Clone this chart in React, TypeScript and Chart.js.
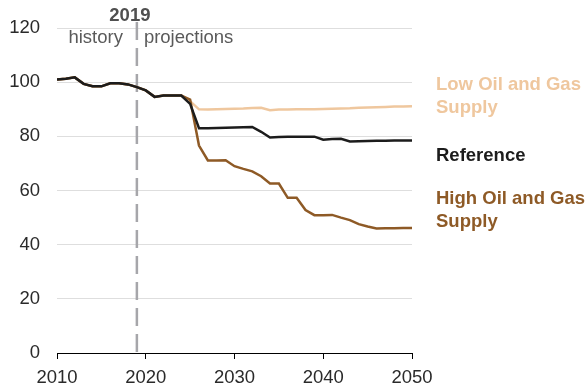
import React, { useEffect, useRef } from "react";
import { Chart, registerables } from "chart.js";

Chart.register(...registerables);

const years: number[] = [];
for (let y = 2010; y <= 2050; y++) years.push(y);

const referenceCase = [
  101.0, 101.3, 101.8, 99.4, 98.5, 98.5, 99.6, 99.6, 99.2, 98.2,
  97.0, 94.6, 95.1, 95.1, 95.1, 92.0, 83.0, 83.0, 83.1, 83.2,
  83.3, 83.4, 83.5, 81.7, 79.6, 79.8, 79.9, 79.9, 79.9, 79.9,
  78.8, 79.0, 79.1, 78.1, 78.2, 78.3, 78.4, 78.4, 78.5, 78.5, 78.5,
];

const lowSupply = [
  101.0, 101.3, 101.8, 99.4, 98.5, 98.5, 99.6, 99.6, 99.2, 98.2,
  97.0, 94.6, 95.1, 95.1, 95.1, 93.0, 90.0, 89.9, 90.0, 90.1,
  90.2, 90.3, 90.5, 90.6, 89.7, 89.9, 89.9, 90.0, 90.0, 90.0,
  90.1, 90.2, 90.3, 90.4, 90.6, 90.7, 90.8, 90.9, 91.0, 91.0, 91.1,
];

const highSupply = [
  101.0, 101.3, 101.8, 99.4, 98.5, 98.5, 99.6, 99.6, 99.2, 98.2,
  97.0, 94.6, 95.1, 95.1, 95.1, 93.6, 76.6, 71.1, 71.1, 71.2,
  69.0, 68.0, 67.1, 65.3, 62.6, 62.6, 57.3, 57.3, 52.8, 50.9,
  50.9, 51.0, 50.0, 49.1, 47.6, 46.7, 46.0, 46.1, 46.1, 46.2, 46.2,
];

const xTicks = [2010, 2020, 2030, 2040, 2050];
const yTicks = [0, 20, 40, 60, 80, 100, 120];
const dividerYear = 2019;

const FONT = '"Liberation Sans", Arial, Helvetica, sans-serif';
const LOW_COLOR = "#efc79e";
const REF_COLOR = "#1c1c1c";
const HIGH_COLOR = "#8e5a26";

const legendLines = [
  { text: "Low Oil and Gas", color: LOW_COLOR, y: 90 },
  { text: "Supply", color: LOW_COLOR, y: 113 },
  { text: "Reference", color: REF_COLOR, y: 160.5 },
  { text: "High Oil and Gas", color: HIGH_COLOR, y: 204 },
  { text: "Supply", color: HIGH_COLOR, y: 227 },
];

const annotationPlugin = {
  id: "annot",
  beforeDatasetsDraw(chart: any) {
    const { ctx, chartArea, scales } = chart;
    const x = scales.x.getPixelForValue(dividerYear);
    ctx.save();
    ctx.strokeStyle = "#a6a6aa";
    ctx.lineWidth = 2.5;
    ctx.setLineDash([18, 8]);
    ctx.beginPath();
    ctx.moveTo(x, 22);
    ctx.lineTo(x, chartArea.bottom);
    ctx.stroke();
    ctx.restore();
  },
  afterDraw(chart: any) {
    const { ctx, scales } = chart;
    const x = scales.x.getPixelForValue(dividerYear);
    ctx.save();
    ctx.textBaseline = "alphabetic";
    ctx.font = `bold 18.5px ${FONT}`;
    ctx.fillStyle = "#505050";
    ctx.textAlign = "center";
    ctx.fillText(String(dividerYear), x - 7, 20.5);
    ctx.font = `18.5px ${FONT}`;
    ctx.fillStyle = "#5a5a5a";
    ctx.textAlign = "right";
    ctx.fillText("history", x - 14, 42.5);
    ctx.textAlign = "left";
    ctx.fillText("projections", x + 7, 42.5);
    ctx.font = `bold 18.5px ${FONT}`;
    for (const l of legendLines) {
      ctx.fillStyle = l.color;
      ctx.fillText(l.text, 436, l.y);
    }
    ctx.restore();
  },
};

export default function App() {
  const ref = useRef<HTMLCanvasElement | null>(null);
  useEffect(() => {
    if (!ref.current) return;
    const mk = (data: number[]) => years.map((y, i) => ({ x: y, y: data[i] }));
    const chart = new Chart(ref.current, {
      type: "line",
      data: {
        datasets: [
          { label: "Reference", data: mk(referenceCase), borderColor: REF_COLOR, borderWidth: 2.5, pointRadius: 0, tension: 0 },
          { label: "High Oil and Gas Supply", data: mk(highSupply), borderColor: HIGH_COLOR, borderWidth: 2.5, pointRadius: 0, tension: 0 },
          { label: "Low Oil and Gas Supply", data: mk(lowSupply), borderColor: LOW_COLOR, borderWidth: 2.5, pointRadius: 0, tension: 0 },
        ],
      },
      options: {
        animation: false,
        responsive: false,
        devicePixelRatio: 1,
        layout: { padding: { left: 0, right: 176, top: 24.6, bottom: 0 } },
        plugins: { legend: { display: false }, tooltip: { enabled: false } },
        scales: {
          x: {
            type: "linear",
            min: 2010,
            max: 2050,
            afterBuildTicks: (s: any) => { s.ticks = xTicks.map((v) => ({ value: v })); },
            afterFit: (s: any) => { s.height = 34; },
            grid: { display: true, drawOnChartArea: false, drawTicks: true, tickLength: 6, color: "#000" },
            border: { display: true, color: "#000", width: 1 },
            ticks: { color: "#2a2a2a", font: { family: FONT, size: 18.5 }, padding: 8, maxRotation: 0, autoSkip: false, callback: (v: any) => String(v) },
          },
          y: {
            type: "linear",
            min: 0,
            max: 120,
            afterBuildTicks: (s: any) => { s.ticks = yTicks.map((v) => ({ value: v })); },
            afterFit: (s: any) => { s.width = 57; },
            grid: { color: (c: any) => (c.tick && c.tick.value === 0 ? "rgba(0,0,0,0)" : "#dedede"), lineWidth: 1, drawTicks: false },
            border: { display: false },
            ticks: { color: "#2a2a2a", font: { family: FONT, size: 18.5 }, padding: 17 },
          },
        },
      },
      plugins: [annotationPlugin],
    } as any);
    return () => chart.destroy();
  }, []);
  return (
    <div style={{ position: "fixed", left: 0, top: 0, width: 588, height: 387, background: "#fff" }}>
      <canvas ref={ref} width={588} height={387} style={{ width: 588, height: 387 }} />
    </div>
  );
}
